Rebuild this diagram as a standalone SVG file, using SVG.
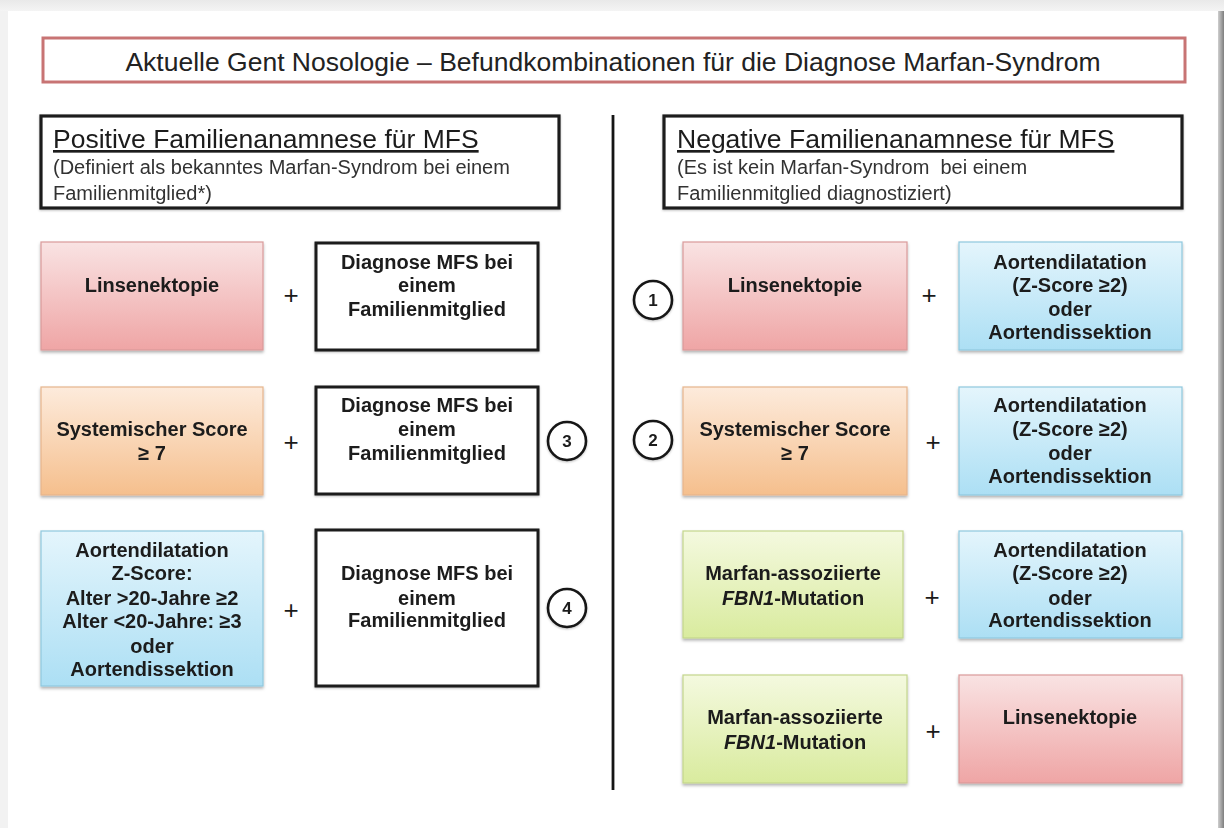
<svg xmlns="http://www.w3.org/2000/svg" width="1224" height="828" viewBox="0 0 1224 828">
<style>
text{font-family:"Liberation Sans",Arial,Helvetica,sans-serif;fill:#1a1a1a}
.title{font-size:26.5px;text-anchor:middle;fill:#222}
.hd{font-size:26.5px;text-decoration:underline}
.sub{font-size:20px;fill:#333}
.b{font-size:20px;font-weight:bold;text-anchor:middle}
.plus{font-size:26px;text-anchor:middle}
.num{font-size:17px;font-weight:bold;text-anchor:middle}
.wbox{fill:#fff;stroke:#1a1a1a;stroke-width:3}
.hbox{fill:#fff;stroke:#1e1e1e;stroke-width:3.2}
.circ{fill:#fff;stroke:#151515;stroke-width:2.6}
.pink{fill:url(#gPink);stroke:#d99a9a;stroke-width:1.2}
.orange{fill:url(#gOrange);stroke:#e6b58c;stroke-width:1.2}
.blue{fill:url(#gBlue);stroke:#8fc8de;stroke-width:1.2}
.green{fill:url(#gGreen);stroke:#c3d68c;stroke-width:1.2}
</style>
<defs>
<linearGradient id="gPink" x1="0" y1="0" x2="0" y2="1"><stop offset="0" stop-color="#f9e3e3"/><stop offset="1" stop-color="#efa5a5"/></linearGradient>
<linearGradient id="gOrange" x1="0" y1="0" x2="0" y2="1"><stop offset="0" stop-color="#fdebdc"/><stop offset="1" stop-color="#f5bf8d"/></linearGradient>
<linearGradient id="gBlue" x1="0" y1="0" x2="0" y2="1"><stop offset="0" stop-color="#e4f5fc"/><stop offset="1" stop-color="#acdff4"/></linearGradient>
<linearGradient id="gGreen" x1="0" y1="0" x2="0" y2="1"><stop offset="0" stop-color="#f4f9df"/><stop offset="1" stop-color="#d9eb9e"/></linearGradient>
<linearGradient id="gShadowR" x1="0" y1="0" x2="1" y2="0"><stop offset="0" stop-color="#f6f6f6"/><stop offset="0.5" stop-color="#cfcfcf"/><stop offset="1" stop-color="#7e7e7e"/></linearGradient>
<linearGradient id="gShadowT" x1="0" y1="0" x2="0" y2="1"><stop offset="0" stop-color="#e9e9e9"/><stop offset="1" stop-color="#f4f4f4"/></linearGradient>
<filter id="sh" x="-10%" y="-10%" width="120%" height="130%"><feDropShadow dx="0" dy="2" stdDeviation="1.5" flood-color="#000" flood-opacity="0.3"/></filter>
<filter id="shs" x="-10%" y="-10%" width="120%" height="130%"><feDropShadow dx="0" dy="1" stdDeviation="1" flood-color="#000" flood-opacity="0.25"/></filter>
</defs>

<g id="page">
<rect x="0" y="0" width="1224" height="828" fill="#f2f2f2"/>
<rect x="0" y="0" width="1224" height="11" fill="url(#gShadowT)"/>
<rect x="1212" y="11" width="12" height="817" fill="url(#gShadowR)"/>
<rect x="8" y="11" width="1210" height="817" fill="#fff"/>
</g>

<g id="title">
<rect x="43" y="38" width="1142" height="44" fill="#fff" stroke="#c87474" stroke-width="3"/>
<text class="title" x="613" y="71">Aktuelle Gent Nosologie – Befundkombinationen für die Diagnose Marfan-Syndrom</text>
</g>

<g id="header-positive" filter="url(#shs)">
<rect class="hbox" x="41" y="116" width="518" height="92"/>
<text class="hd" x="53" y="148">Positive Familienanamnese für MFS</text>
<text class="sub" x="53" y="174">(Definiert als bekanntes Marfan-Syndrom bei einem</text>
<text class="sub" x="53" y="200">Familienmitglied*)</text>
</g>

<g id="header-negative" filter="url(#shs)">
<rect class="hbox" x="664" y="116" width="518" height="92"/>
<text class="hd" x="677" y="148">Negative Familienanamnese für MFS</text>
<text class="sub" x="677" y="174" style="white-space:pre">(Es ist kein Marfan-Syndrom  bei einem</text>
<text class="sub" x="677" y="200">Familienmitglied diagnostiziert)</text>
</g>

<g id="connectors">
<line x1="613" y1="115" x2="613" y2="790" stroke="#151515" stroke-width="2.8"/>
</g>

<!-- Left column -->
<g id="L1-linsenektopie" filter="url(#sh)">
<rect class="pink" x="41" y="242" width="222" height="108"/>
<text class="b" x="152" y="292">Linsenektopie</text>
</g>
<g id="L1-plus"><text class="plus" x="291" y="304">+</text></g>
<g id="L1-diagnose" filter="url(#shs)">
<rect class="wbox" x="316" y="243" width="222" height="107"/>
<text class="b" x="427" y="269">Diagnose MFS bei</text>
<text class="b" x="427" y="292">einem</text>
<text class="b" x="427" y="316">Familienmitglied</text>
</g>

<g id="L2-systemisch" filter="url(#sh)">
<rect class="orange" x="41" y="387" width="222" height="108"/>
<text class="b" x="152" y="436">Systemischer Score</text>
<text class="b" x="152" y="460">≥ 7</text>
</g>
<g id="L2-plus"><text class="plus" x="291" y="451">+</text></g>
<g id="L2-diagnose" filter="url(#shs)">
<rect class="wbox" x="316" y="387" width="222" height="107"/>
<text class="b" x="427" y="412">Diagnose MFS bei</text>
<text class="b" x="427" y="436">einem</text>
<text class="b" x="427" y="460">Familienmitglied</text>
</g>
<g id="num3" filter="url(#shs)">
<circle class="circ" cx="567" cy="441" r="19"/>
<text class="num" x="567" y="447">3</text>
</g>

<g id="L3-aorta" filter="url(#sh)">
<rect class="blue" x="41" y="531" width="222" height="155"/>
<text class="b" x="152" y="557">Aortendilatation</text>
<text class="b" x="152" y="580">Z-Score:</text>
<text class="b" x="152" y="605">Alter &gt;20-Jahre ≥2</text>
<text class="b" x="152" y="628">Alter &lt;20-Jahre: ≥3</text>
<text class="b" x="152" y="653">oder</text>
<text class="b" x="152" y="676">Aortendissektion</text>
</g>
<g id="L3-plus"><text class="plus" x="291" y="619">+</text></g>
<g id="L3-diagnose" filter="url(#shs)">
<rect class="wbox" x="316" y="530" width="222" height="156"/>
<text class="b" x="427" y="580">Diagnose MFS bei</text>
<text class="b" x="427" y="605">einem</text>
<text class="b" x="427" y="627">Familienmitglied</text>
</g>
<g id="num4" filter="url(#shs)">
<circle class="circ" cx="567" cy="608" r="19"/>
<text class="num" x="567" y="614">4</text>
</g>

<!-- Right column -->
<g id="num1" filter="url(#shs)">
<circle class="circ" cx="653" cy="300" r="19"/>
<text class="num" x="653" y="306">1</text>
</g>
<g id="R1-linsenektopie" filter="url(#sh)">
<rect class="pink" x="683" y="242" width="224" height="108"/>
<text class="b" x="795" y="292">Linsenektopie</text>
</g>
<g id="R1-plus"><text class="plus" x="929" y="304">+</text></g>
<g id="R1-aorta" filter="url(#sh)">
<rect class="blue" x="959" y="242" width="223" height="108"/>
<text class="b" x="1070" y="269">Aortendilatation</text>
<text class="b" x="1070" y="292">(Z-Score ≥2)</text>
<text class="b" x="1070" y="316">oder</text>
<text class="b" x="1070" y="339">Aortendissektion</text>
</g>

<g id="num2" filter="url(#shs)">
<circle class="circ" cx="653" cy="440" r="19"/>
<text class="num" x="653" y="446">2</text>
</g>
<g id="R2-systemisch" filter="url(#sh)">
<rect class="orange" x="683" y="387" width="224" height="108"/>
<text class="b" x="795" y="436">Systemischer Score</text>
<text class="b" x="795" y="460">≥ 7</text>
</g>
<g id="R2-plus"><text class="plus" x="933" y="451">+</text></g>
<g id="R2-aorta" filter="url(#sh)">
<rect class="blue" x="959" y="387" width="223" height="108"/>
<text class="b" x="1070" y="412">Aortendilatation</text>
<text class="b" x="1070" y="436">(Z-Score ≥2)</text>
<text class="b" x="1070" y="460">oder</text>
<text class="b" x="1070" y="483">Aortendissektion</text>
</g>

<g id="R3-fbn1" filter="url(#sh)">
<rect class="green" x="683" y="531" width="220" height="107"/>
<text class="b" x="793" y="580">Marfan-assoziierte</text>
<text class="b" x="793" y="605"><tspan font-style="italic">FBN1</tspan>-Mutation</text>
</g>
<g id="R3-plus"><text class="plus" x="932" y="606">+</text></g>
<g id="R3-aorta" filter="url(#sh)">
<rect class="blue" x="959" y="531" width="223" height="107"/>
<text class="b" x="1070" y="557">Aortendilatation</text>
<text class="b" x="1070" y="580">(Z-Score ≥2)</text>
<text class="b" x="1070" y="605">oder</text>
<text class="b" x="1070" y="627">Aortendissektion</text>
</g>

<g id="R4-fbn1" filter="url(#sh)">
<rect class="green" x="683" y="675" width="224" height="108"/>
<text class="b" x="795" y="724">Marfan-assoziierte</text>
<text class="b" x="795" y="749"><tspan font-style="italic">FBN1</tspan>-Mutation</text>
</g>
<g id="R4-plus"><text class="plus" x="933" y="740">+</text></g>
<g id="R4-linsenektopie" filter="url(#sh)">
<rect class="pink" x="959" y="675" width="223" height="108"/>
<text class="b" x="1070" y="724">Linsenektopie</text>
</g>
</svg>
